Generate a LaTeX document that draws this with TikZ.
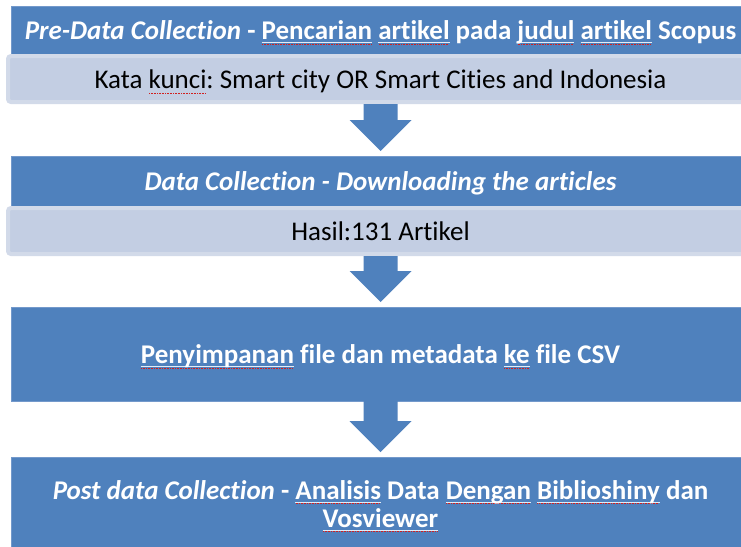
\documentclass[tikz,border=0pt]{standalone}
\usepackage{fontspec}
\setmainfont{Carlito}[Ligatures=NoCommon]
\usetikzlibrary{calc}
\frenchspacing
\definecolor{dkblue}{HTML}{4F81BD}
\definecolor{dkedge}{HTML}{7399CB}
\definecolor{ltfill}{HTML}{C3CEE3}
\definecolor{ltedge}{HTML}{D2DAE9}
\definecolor{sperr}{HTML}{D02020}
% spell-check marks: red dotted line (and a faint line for white text)
\newcommand\spdots[1]{\rlap{\raisebox{-5pt}{\textcolor{sperr}{\hbox to #1{\leaders\hbox to 1.6pt{\hss\rule{0.9pt}{0.9pt}\hss}\hfill}}}}}
\newcommand\spchk[1]{\setbox0=\hbox{#1}\spdots{\wd0}\copy0\relax}
\newcommand\spchkw[1]{\setbox0=\hbox{#1}\rlap{\raisebox{-3pt}{\textcolor{white!85!dkblue}{\rule{\wd0}{0.5pt}}}}\spdots{\wd0}\copy0\relax}
\tikzset{
  darkbox/.style={rectangle, fill=dkblue, draw=dkedge, line width=0.6pt, outer sep=0pt,
    text=white, font=\fontsize{27}{28}\selectfont\bfseries\frenchspacing,
    minimum width=739pt, inner sep=0pt},
  lightbox/.style={rectangle, rounded corners=3pt, fill=ltfill, draw=ltedge, line width=4pt,
    text=black, font=\fontsize{27}{28}\selectfont\frenchspacing,
    minimum width=745pt, minimum height=46pt, inner sep=0pt},
  oneline/.style={text height=24pt, text depth=5pt},
  blk/.style={fill=dkblue}
}
\begin{document}
\begin{tikzpicture}[x=1pt,y=-1pt]
\useasboundingbox (0,0) rectangle (741,546);
\fill[white] (0,0) rectangle (741,546);

\node[darkbox, oneline, minimum height=48pt] (d1) at (380.5,30)
  {\itshape Pre-Data Collection\upshape{} - \spchkw{Pencarian} \spchkw{artikel} pada \spchkw{judul} \spchkw{artikel} Scopus};
\node[lightbox, oneline] (l1) at (380.5,79)
  {Kata \spchk{kunci}: Smart city OR Smart Cities and Indonesia};

\node[darkbox, oneline, minimum height=50pt] (d2) at (380.5,181)
  {\itshape Data Collection - Downloading the articles};
\node[lightbox, oneline] (l2) at (380.5,231)
  {Hasil:131 Artikel};

\node[darkbox, oneline, minimum height=94pt] (d3) at (380.5,354)
  {\spchkw{Penyimpanan} file dan metadata \spchkw{ke} file CSV};

\node[darkbox, text height=20pt, text depth=30pt, minimum height=94pt] (d4) at (380.5,504)
  {\begin{tabular}[t]{@{}c@{}}\itshape Post data Collection\upshape{} - \spchkw{Analisis} Data \spchkw{Dengan} \spchkw{Biblioshiny} dan\\ \spchkw{Vosviewer}\end{tabular}};

\foreach \a/\b in {l1/d2, l2/d3, d3/d4}{
  \fill[blk] ([xshift=-17pt]\a.south) -- ([xshift=-17pt,yshift=36pt]\b.north)
    -- ([xshift=-31pt,yshift=36pt]\b.north) -- ([yshift=5pt]\b.north)
    -- ([xshift=31pt,yshift=36pt]\b.north) -- ([xshift=17pt,yshift=36pt]\b.north)
    -- ([xshift=17pt]\a.south) -- cycle;
}
\end{tikzpicture}
\end{document}
